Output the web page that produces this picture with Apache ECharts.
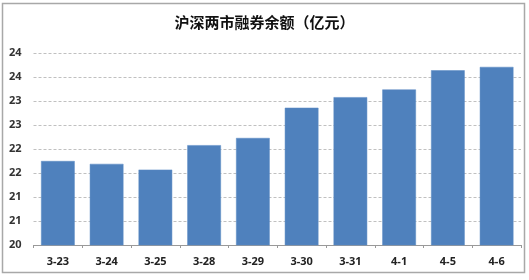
<!DOCTYPE html>
<html>
<head>
<meta charset="utf-8">
<script src="https://cdn.jsdelivr.net/npm/echarts@6/dist/echarts.min.js"></script>
<style>
html,body{margin:0;padding:0;background:#fff;}
#c{width:529px;height:280px;}
</style>
</head>
<body>
<div id="c"></div>
<script>
var titleText = '沪深两市融券余额（亿元）';
var categories = ['3-23','3-24','3-25','3-28','3-29','3-30','3-31','4-1','4-5','4-6'];
var values = [21.75, 21.69, 21.57, 22.08, 22.23, 22.86, 23.08, 23.24, 23.64, 23.71];
var yTickLabels = ['20','21','21','22','22','23','23','24','24'];

var chart = echarts.init(document.getElementById('c'), null, {renderer: 'canvas'});
chart.setOption({
  animation: false,
  backgroundColor: '#fff',
  title: {
    text: titleText,
    left: 'center',
    top: 10,
    textStyle: {fontFamily: 'Noto Sans CJK SC', fontSize: 15, fontWeight: 'bold', color: '#111'}
  },
  graphic: [{
    type: 'rect',
    shape: {x: 2.5, y: 3.5, width: 522, height: 269},
    style: {fill: 'none', stroke: '#a8a8a8', lineWidth: 1.5},
    z: 100
  }],
  grid: {left: 33.5, right: 8, top: 53, bottom: 35, containLabel: false},
  xAxis: {
    type: 'category',
    data: categories,
    axisLine: {lineStyle: {color: '#999', width: 1}},
    axisTick: {show: true, alignWithLabel: false, length: 3, lineStyle: {color: '#999'}},
    axisLabel: {fontFamily: 'Noto Sans', fontSize: 11, fontWeight: 'bold', color: '#222', margin: 11}
  },
  yAxis: {
    type: 'value',
    min: 20,
    max: 24,
    interval: 0.5,
    axisLine: {show: false},
    axisTick: {show: false},
    splitLine: {show: true, lineStyle: {color: '#c0c0c0', type: [3, 2], width: 1}},
    axisLabel: {
      fontFamily: 'Noto Sans', fontSize: 11, fontWeight: 'bold', color: '#333', margin: 12,
      formatter: function (v) {
        var i = Math.round((v - 20) / 0.5);
        return yTickLabels[i] !== undefined ? yTickLabels[i] : '';
      }
    }
  },
  series: [{
    type: 'bar',
    data: values,
    barCategoryGap: '31%',
    itemStyle: {color: '#4f81bd', borderColor: '#5b8ac4', borderWidth: 0.5}
  }]
});
</script>
</body>
</html>
